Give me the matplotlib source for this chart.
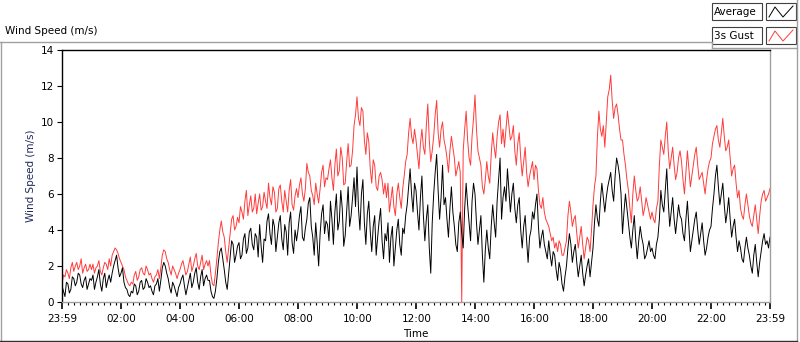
import numpy as np
import matplotlib
matplotlib.use("Agg")
import matplotlib.pyplot as plt
from matplotlib.lines import Line2D
from matplotlib.patches import Rectangle

# wind speed samples every 3 minutes, starting 23:59 (one row per hour)
avg_speed = [
    0.9, 0.6, 0.3, 1.1, 1.0, 0.5, 0.7, 1.4, 1.3, 0.9, 1.1, 1.6, 1.5, 1.0, 0.8, 1.2, 1.4, 0.7, 1.0, 1.3,
    1.2, 1.5, 0.7, 1.1, 1.4, 1.8, 1.0, 0.6, 1.3, 1.6, 0.8, 1.2, 1.5, 1.1, 1.6, 2.0, 2.3, 2.6, 1.9, 1.4,
    1.6, 1.9, 1.1, 0.8, 0.7, 0.4, 0.3, 0.6, 0.5, 1.0, 0.9, 0.4, 0.6, 1.1, 1.2, 0.7, 0.8, 1.3, 1.1, 0.8,
    0.9, 0.6, 0.4, 0.9, 1.0, 1.3, 0.6, 1.2, 1.9, 2.2, 2.0, 1.6, 1.3, 0.8, 0.5, 1.1, 0.9, 0.6, 0.3, 0.8,
    1.0, 1.3, 1.5, 0.9, 0.4, 0.8, 1.2, 1.6, 0.8, 1.1, 1.6, 1.9, 1.1, 0.7, 1.4, 1.8, 0.9, 1.3, 1.5, 1.2,
    1.2, 0.6, 0.3, 0.2, 0.6, 1.3, 2.2, 2.8, 3.0, 2.4, 1.8, 1.1, 0.7, 1.6, 2.5, 3.4, 3.2, 2.2, 2.6, 3.1,
    3.3, 2.4, 2.6, 3.5, 3.8, 2.7, 3.0, 3.9, 4.1, 3.2, 2.9, 3.8, 3.6, 2.5, 4.3, 3.1, 2.2, 3.5, 3.4, 4.5,
    4.9, 3.8, 3.2, 4.6, 4.2, 2.8, 3.6, 4.4, 4.8, 3.5, 2.9, 4.3, 3.9, 2.6, 4.4, 5.0, 3.3, 2.7, 4.0, 3.4,
    4.0, 4.8, 5.3, 3.6, 3.4, 4.1, 4.6, 5.5, 5.8, 4.2, 3.6, 2.6, 4.4, 3.3, 2.0, 3.8, 4.9, 5.4, 3.8, 4.5,
    4.3, 3.4, 5.6, 4.6, 3.2, 5.0, 6.0, 4.0, 4.5, 6.2, 5.2, 3.1, 3.7, 5.1, 6.4, 4.2, 4.8, 5.8, 6.9, 5.3,
    7.5, 5.2, 4.0, 6.0, 6.8, 4.4, 3.2, 4.9, 5.6, 3.9, 2.8, 4.2, 4.8, 2.6, 3.6, 4.5, 5.2, 3.4, 2.4, 3.8,
    3.4, 4.4, 2.2, 3.6, 4.2, 2.0, 3.0, 4.0, 4.6, 3.2, 2.6, 4.1, 3.8, 4.8, 5.4, 6.4, 7.4, 6.0, 5.0, 6.6,
    6.2, 5.0, 4.0, 5.8, 7.0, 4.8, 3.4, 4.6, 5.4, 3.0, 1.6, 4.4, 6.0, 7.2, 8.2, 6.2, 4.6, 5.8, 7.6, 5.4,
    5.8, 4.6, 3.6, 5.2, 6.4, 5.0, 4.2, 3.2, 2.8, 4.4, 5.0, 3.8, 3.0, 5.2, 6.6, 5.4, 4.4, 3.4, 5.6, 6.6,
    6.0, 4.4, 3.2, 4.0, 4.8, 2.6, 1.1, 2.9, 4.0, 3.0, 2.4, 4.2, 5.4, 4.4, 3.6, 5.6, 6.8, 8.0, 4.6, 5.8,
    6.4, 5.6, 7.4, 6.2, 5.0, 6.0, 6.6, 5.2, 4.4, 5.4, 5.8, 4.0, 3.0, 4.2, 4.8, 3.4, 2.2, 3.6, 4.0, 5.0,
    4.6, 5.4, 6.0, 4.2, 3.0, 3.6, 4.0, 3.2, 2.8, 2.4, 3.4, 2.6, 2.0, 2.8, 2.6, 1.8, 1.2, 2.2, 1.8, 1.0,
    0.6, 1.4, 2.0, 3.0, 3.8, 3.2, 2.2, 2.8, 3.2, 2.2, 1.4, 2.0, 2.6, 1.6, 0.9, 1.5, 2.0, 2.4, 1.4, 2.2,
    3.0, 4.4, 5.4, 4.6, 4.2, 5.6, 6.6, 5.8, 5.0, 5.8, 6.4, 6.8, 7.2, 6.2, 5.6, 7.0, 8.0, 7.6, 7.0, 6.0,
    3.8, 5.0, 6.0, 5.2, 4.4, 3.6, 3.0, 4.0, 4.8, 3.4, 2.4, 3.4, 4.2, 3.6, 3.2, 2.4, 2.6, 3.0, 3.4, 2.8,
    3.0, 2.6, 2.4, 3.2, 3.6, 4.6, 6.2, 5.4, 5.0, 6.2, 7.4, 5.6, 4.2, 5.0, 5.8, 4.6, 3.8, 4.6, 5.4, 4.8,
    4.6, 3.8, 3.4, 4.6, 5.6, 4.2, 2.8, 3.4, 4.0, 4.6, 5.0, 4.0, 3.2, 3.8, 4.4, 3.4, 2.6, 3.0, 3.6, 4.0,
    4.2, 5.2, 6.0, 7.0, 7.6, 6.4, 5.4, 6.0, 6.6, 5.4, 4.4, 5.0, 5.8, 4.6, 3.6, 4.2, 4.6, 3.6, 2.8, 3.4,
    3.0, 2.4, 2.2, 3.0, 3.6, 3.0, 2.6, 2.0, 1.6, 2.6, 3.2, 2.2, 1.4, 2.2, 2.8, 3.4, 3.8, 3.2, 3.4, 3.0,
    3.6,
]
gust_speed = [
    1.0, 1.5, 1.4, 1.8, 1.6, 1.3, 1.9, 2.2, 1.7, 2.0, 2.2, 1.8, 2.0, 2.4, 1.6, 1.9, 2.1, 1.7, 1.8, 2.1,
    1.8, 2.1, 1.6, 1.9, 2.0, 2.3, 1.7, 1.5, 1.9, 2.2, 2.1, 1.8, 2.4, 2.0, 2.6, 2.8, 3.0, 2.9, 2.7, 2.4,
    2.2, 2.0, 1.8, 1.4, 1.2, 1.0, 0.9, 1.1, 1.0, 1.5, 1.7, 1.2, 1.4, 1.8, 1.9, 1.6, 1.5, 2.0, 1.8, 1.5,
    1.6, 1.3, 1.1, 1.4, 1.5, 1.8, 1.3, 1.9, 2.6, 2.9, 2.8, 2.4, 2.2, 1.8, 1.5, 2.0, 1.8, 1.6, 1.3, 1.6,
    1.8, 2.1, 2.3, 1.9, 1.5, 1.7, 2.1, 2.5, 1.7, 2.0, 2.4, 2.7, 2.0, 1.8, 2.2, 2.6, 1.8, 2.1, 2.3, 2.0,
    2.3, 1.5, 1.0, 0.9, 1.6, 2.4, 3.3, 4.0, 4.5, 3.9, 3.6, 2.8, 2.2, 3.0, 3.8, 4.6, 4.8, 4.0, 4.2, 4.7,
    4.4, 5.3, 5.0, 4.6, 5.6, 6.2, 4.8, 5.4, 5.9, 5.0, 5.2, 6.0, 4.9, 5.5, 6.0, 5.1, 5.3, 6.1, 5.6, 5.2,
    6.6, 5.8, 5.4, 6.4, 6.1, 5.0, 5.2, 6.3, 6.5, 5.6, 5.0, 6.2, 5.6, 5.0, 6.2, 6.8, 5.4, 5.1, 5.9, 6.3,
    5.8, 6.5, 6.9, 6.0, 5.6, 6.3, 7.7, 7.2, 7.0, 6.2, 5.9, 5.4, 6.6, 6.0, 5.5, 6.3, 7.2, 7.6, 6.4, 6.9,
    6.8, 7.4, 7.9, 6.9, 6.2, 7.6, 8.5, 7.0, 7.3, 8.6, 8.0, 6.5, 6.6, 7.8, 8.8, 7.5, 7.6, 8.4, 9.8, 10.4,
    11.4, 10.2, 9.8, 10.8, 10.6, 9.0, 8.2, 9.4, 8.9, 7.4, 6.6, 7.9, 7.6, 6.4, 6.2, 7.0, 7.2, 6.8, 6.0, 6.6,
    5.8, 6.6, 5.0, 5.7, 6.4, 5.3, 4.8, 6.0, 6.6, 5.8, 5.2, 6.3, 7.0, 7.8, 8.2, 9.4, 10.2, 9.2, 8.8, 9.6,
    9.0, 8.2, 7.4, 8.8, 9.6, 8.6, 8.2, 9.8, 11.0, 9.0, 7.8, 8.4, 9.2, 10.4, 11.2, 9.4, 8.6, 9.6, 10.0, 9.0,
    8.6, 8.0, 7.2, 8.4, 9.2, 8.6, 8.0, 7.0, 7.4, 7.8, 7.2, 0.0, 8.4, 9.6, 10.6, 9.0, 8.0, 7.6, 9.2, 10.2,
    11.5, 9.6, 8.4, 8.0, 7.6, 6.4, 6.0, 6.8, 7.8, 7.0, 6.6, 8.2, 9.4, 8.6, 8.0, 9.2, 10.0, 10.4, 8.8, 9.6,
    8.6, 9.6, 10.6, 9.8, 9.0, 9.2, 9.8, 8.4, 7.6, 8.8, 9.4, 8.0, 7.0, 7.8, 8.6, 7.2, 6.4, 7.0, 7.4, 7.8,
    6.8, 7.6, 7.4, 6.2, 5.4, 5.2, 5.8, 5.0, 4.6, 4.4, 4.2, 3.8, 3.4, 3.6, 3.0, 3.3, 2.8, 3.4, 3.2, 2.6,
    2.6, 3.0, 3.4, 4.8, 5.6, 5.0, 4.2, 4.6, 4.8, 3.8, 3.0, 3.6, 4.2, 3.2, 2.4, 3.0, 3.6, 3.4, 2.8, 4.0,
    5.4, 6.4, 7.0, 9.2, 10.6, 9.6, 9.2, 9.8, 8.6, 10.0, 11.4, 11.8, 12.6, 11.2, 10.2, 10.8, 11.0, 10.4, 9.6, 9.0,
    9.0, 8.2, 7.6, 6.8, 6.2, 5.2, 4.4, 6.0, 7.0, 6.2, 5.6, 5.8, 6.4, 5.6, 4.8, 5.2, 5.8, 5.4, 5.0, 4.6,
    5.0, 4.6, 4.4, 5.2, 5.6, 7.6, 9.0, 8.6, 8.2, 9.2, 10.0, 8.4, 7.4, 8.0, 8.6, 7.6, 6.8, 7.2, 8.0, 8.4,
    7.8, 6.8, 6.0, 7.2, 8.4, 7.4, 6.4, 7.0, 7.6, 8.2, 8.6, 7.6, 6.8, 7.0, 7.2, 6.6, 6.0, 6.8, 7.4, 7.8,
    8.0, 8.8, 9.2, 9.6, 9.8, 9.0, 8.6, 9.4, 10.2, 9.2, 8.4, 8.6, 9.0, 8.0, 7.0, 7.4, 7.6, 6.6, 5.8, 6.2,
    5.2, 4.8, 4.6, 5.4, 6.0, 5.4, 4.8, 4.4, 4.2, 4.8, 5.4, 4.6, 3.8, 4.8, 5.6, 6.0, 6.2, 5.6, 5.8, 6.0,
    6.3,
]
tick_labels = ["23:59", "02:00", "04:00", "06:00", "08:00", "10:00", "12:00",
               "14:00", "16:00", "18:00", "20:00", "22:00", "23:59"]
y_ticks = [0, 2, 4, 6, 8, 10, 12, 14]

minutes = np.arange(len(avg_speed)) * 3.0   # minutes after 23:59
major_pos = [0] + [121 + 120 * k for k in range(11)] + [1440]
minor_pos = [1 + 12 * k for k in range(1, 120)]

plt.rcParams['font.family'] = ['DejaVu Sans']
fig = plt.figure(figsize=(8.0, 3.42), dpi=100)
ax = fig.add_axes([62 / 800, 1 - 302 / 342, 708 / 800, 252 / 342])

ax.plot(minutes, gust_speed, color='#ff3b3b', lw=0.7)
ax.plot(minutes, avg_speed, color='black', lw=0.7)

ax.set_xlim(0, 1440)
ax.set_ylim(0, 14)
ax.set_yticks(y_ticks)
ax.set_yticklabels([str(v) for v in y_ticks], fontsize=7.5)
ax.set_xticks(major_pos)
ax.set_xticklabels(tick_labels, fontsize=7.5)
ax.set_xticks(minor_pos, minor=True)
ax.tick_params(axis='x', which='major', length=5, width=1.2, pad=4)
ax.tick_params(axis='x', which='minor', length=2.5, width=0.8)
ax.tick_params(axis='y', length=3.5, width=0.8, pad=2)
ax.set_xlabel('Time', fontsize=7.5, labelpad=3)
ax.set_ylabel('Wind Speed (m/s)', fontsize=7.5, color='#1f2a5c', labelpad=4)

ax.spines['top'].set_color('black')
ax.spines['left'].set_color('black')
ax.spines['bottom'].set_color('#a0a0a0')
ax.spines['right'].set_color('#a0a0a0')
for s in ax.spines.values():
    s.set_linewidth(1.0)

# outer panel frame
fx = lambda px: px / 800
fy = lambda py: 1 - py / 342
gray = '#a0a0a0'
fig.add_artist(Line2D([fx(0), fx(712)], [fy(42), fy(42)], color=gray, lw=1))
fig.add_artist(Line2D([fx(712), fx(797)], [fy(48), fy(48)], color=gray, lw=1))
fig.add_artist(Line2D([fx(712), fx(712)], [fy(42), fy(48)], color=gray, lw=1))
fig.add_artist(Line2D([fx(0.5), fx(0.5)], [fy(42), fy(341)], color=gray, lw=1))
fig.add_artist(Line2D([fx(797), fx(797)], [fy(0), fy(341)], color=gray, lw=1))
fig.add_artist(Line2D([fx(0), fx(797)], [fy(341), fy(341)], color='#303030', lw=1))

fig.text(fx(5), fy(31), 'Wind Speed (m/s)', fontsize=7.5, va='center', ha='left')

# legend boxes
for i, (name, col) in enumerate([('Average', 'black'), ('3s Gust', '#ff3b3b')]):
    top = 3 + i * 24
    fig.add_artist(Rectangle((fx(712), fy(top + 17)), fx(50), 17 / 342,
                             facecolor='white', edgecolor='#404040', lw=0.8))
    fig.add_artist(Rectangle((fx(766), fy(top + 17)), fx(30), 17 / 342,
                             facecolor='white', edgecolor='#404040', lw=0.8))
    fig.text(fx(714), fy(top + 9), name, fontsize=7.5, va='center', ha='left')
    fig.add_artist(Line2D([fx(769), fx(775), fx(783), fx(793)],
                          [fy(top + 14), fy(top + 4), fy(top + 14), fy(top + 3)],
                          color=col, lw=0.7))

fig.savefig('out.png', dpi=100)
